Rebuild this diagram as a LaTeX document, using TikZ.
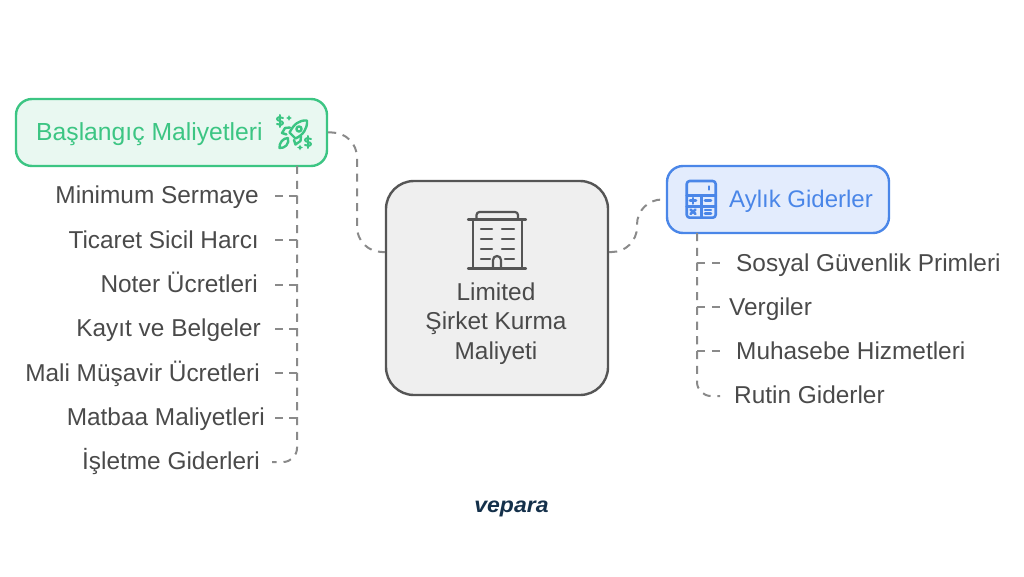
\documentclass[tikz,border=0pt]{standalone}
\usepackage{fontspec}
\setmainfont{Liberation Sans}
\newfontfamily\logofont[FakeStretch=1.07]{Liberation Sans}
\usepackage{xcolor}
\usetikzlibrary{calc}
\definecolor{StartGreen}{HTML}{3CC583}
\definecolor{StartMint}{HTML}{E9F8F1}
\definecolor{MonthBlue}{HTML}{4A86E8}
\definecolor{MonthSky}{HTML}{E3ECFD}
\definecolor{CoreGrey}{HTML}{555555}
\definecolor{CoreFill}{HTML}{EFEFEF}
\definecolor{LeafText}{HTML}{4A4A4A}
\definecolor{LinkGrey}{HTML}{8A8A8A}
\definecolor{LogoNavy}{HTML}{14304A}
\tikzset{
  box/.style={draw,line width=2.4pt,rounded corners=16pt,inner sep=0pt},
  leaf/.style={text=LeafText,inner sep=0pt,font=\fontsize{24.4}{29}\selectfont},
  link/.style={LinkGrey,line width=2pt,dash pattern=on 8pt off 6.77pt},
  icon/.style={line width=2.2pt,line cap=round,line join=round},
}

\begin{document}
\begin{tikzpicture}[x=1pt,y=-1pt]
  \useasboundingbox (0,0) rectangle (1024,577);
  % main boxes
  \node[box,draw=CoreGrey,fill=CoreFill,rounded corners=28pt,minimum width=222pt,minimum height=214pt] (core) at (497,288) {};
  \node[box,draw=StartGreen,fill=StartMint,minimum width=311pt,minimum height=67pt] (start) at (171.5,132.5) {};
  \node[box,draw=MonthBlue,fill=MonthSky,minimum width=222pt,minimum height=67pt] (month) at (778,199.5) {};
  \node[anchor=base west,text=StartGreen,inner sep=0pt,font=\fontsize{24.7}{29}\selectfont] (starttext) at (36,140.7) {Başlangıç Maliyetleri};
  \node[anchor=base west,text=MonthBlue,inner sep=0pt,font=\fontsize{24}{29}\selectfont] (monthtext) at (729,207.3) {Aylık Giderler};
  \node[leaf,anchor=base] (coreone) at (496,300) {Limited};
  \node[leaf,anchor=base] (coretwo) at (496,329.5) {Şirket Kurma};
  \node[leaf,anchor=base] (corethree) at (496,359.2) {Maliyeti};
  % left leaves
  \foreach \name/\xend/\y/\txt in {sermaye/259/204/Minimum Sermaye,sicil/259/248.3/Ticaret Sicil Harcı,noter/258/292.6/Noter Ücretleri,kayit/261/336.9/Kayıt ve Belgeler,musavir/260/381.2/Mali Müşavir Ücretleri,matbaa/265/425.5/Matbaa Maliyetleri,isletme/260/469.8/İşletme Giderleri}{
    \node[leaf,anchor=base east] (\name) at (\xend,\y) {\txt};
  }
  % right leaves
  \foreach \name/\xstart/\y/\txt in {sosyal/736/271/Sosyal Güvenlik Primleri,vergi/729/315/Vergiler,muhasebe/736/359.3/Muhasebe Hizmetleri,rutin/734/403/Rutin Giderler}{
    \node[leaf,anchor=base west] (\name) at (\xstart,\y) {\txt};
  }
  % connectors
  \coordinate (trunkL) at (297,166);
  \coordinate (trunkR) at (697,233);
  \draw[link,rounded corners=25pt] (start.east) -- (357,132.5) -- (357,252) -- ([yshift=36pt]core.west);
  \draw[link,rounded corners=25pt] ([yshift=36pt]core.east) -- (637,252) -- (637,199.5) -- (month.west);
  \foreach \name/\y in {sermaye/196,sicil/240.3,noter/284.6,kayit/328.9,musavir/373.2,matbaa/417.5}{
    \coordinate (\name end) at (275,\y);
    \draw[link] (trunkL) |- (\name end);
  }
  \coordinate (isletme end) at (272,462);
  \draw[link,rounded corners=14pt] (trunkL) |- (isletme end);
  \foreach \name/\y in {sosyal/262.5,vergi/306.8,muhasebe/351.1}{
    \coordinate (\name end) at (720,\y);
    \draw[link] (trunkR) |- (\name end);
  }
  \coordinate (rutin end) at (720,396);
  \draw[link,rounded corners=14pt] (trunkR) |- (rutin end);
  % building
  \begin{scope}[icon,CoreGrey]
    \draw (468,219.5) -- (526,219.5) (468,268.5) -- (526,268.5);
    \draw (476.5,219.5) -- (476.5,215) arc[start angle=180,end angle=270,radius=3] -- (515,212) arc[start angle=-90,end angle=0,radius=3] -- (518,219.5);
    \draw (473,219.5) -- (473,268.5) (522,219.5) -- (522,268.5);
    \foreach \y in {229,239,248.7}{
      \draw (481,\y) -- (492,\y) (502,\y) -- (514,\y);
    }
    \draw (481,258.7) -- (490,258.7) (505,258.7) -- (514,258.7);
    \draw (493,268.5) -- (493,260) arc[start angle=180,end angle=360,radius=4] -- (501,268.5);
  \end{scope}
  % calculator
  \begin{scope}[icon,MonthBlue,line width=2.6pt]
    \draw[rounded corners=3pt] (686.7,181) rectangle (715.7,217.7);
    \draw (686.7,195.7) -- (715.7,195.7) (686.7,206.5) -- (715.7,206.5) (701.2,195.7) -- (701.2,217.7);
    \draw (709,186.5) -- (709,189.5);
    \draw (690,200.8) -- (696,200.8) (693,198) -- (693,203.6);
    \draw (705,200.8) -- (711,200.8);
    \draw (690.5,209.5) -- (695.5,214) (695.5,209.5) -- (690.5,214);
    \draw (705,210) -- (711,210) (705,213.5) -- (711,213.5);
  \end{scope}
  % rocket
  \begin{scope}[icon,StartGreen,line width=2.4pt]
    \draw (307,120.5) .. controls (299,120) and (294,124) .. (289.5,132.5) -- (295.5,138.5) .. controls (303,135) and (307.5,129) .. (307,120.5);
    \draw (299,129) circle (2.6);
    \draw (290,127.5) -- (285,128) -- (282,133) -- (286.5,134.5);
    \draw (301,136) -- (300.5,141) -- (295.5,144.5) -- (294,140);
    \draw (288,138) .. controls (283,138) and (279,143) .. (279.5,148) .. controls (285,148.5) and (289.5,144) .. (288,138);
    \foreach \cx/\cy in {280/121,308/142}{
      \draw[line width=2pt] (\cx+3,\cy-3) .. controls (\cx+1,\cy-4.5) and (\cx-3,\cy-4) .. (\cx-3,\cy-2) .. controls (\cx-3,\cy+0.5) and (\cx+3,\cy-0.5) .. (\cx+3,\cy+2) .. controls (\cx+3,\cy+4) and (\cx-1,\cy+4.5) .. (\cx-3,\cy+3);
      \draw[line width=2pt] (\cx,\cy-6) -- (\cx,\cy+6);
    }
    \foreach \cx/\cy in {289/118,300/147.5}{
      \fill (\cx,\cy-2.8) -- (\cx+1,\cy-1) -- (\cx+2.8,\cy) -- (\cx+1,\cy+1) -- (\cx,\cy+2.8) -- (\cx-1,\cy+1) -- (\cx-2.8,\cy) -- (\cx-1,\cy-1) -- cycle;
    }
  \end{scope}
  % logo
  \node[text=LogoNavy,inner sep=0pt,anchor=base,font=\fontsize{21.5}{24}\logofont\bfseries\itshape] (logo) at (511.5,512) {vepara};
\end{tikzpicture}
\end{document}
